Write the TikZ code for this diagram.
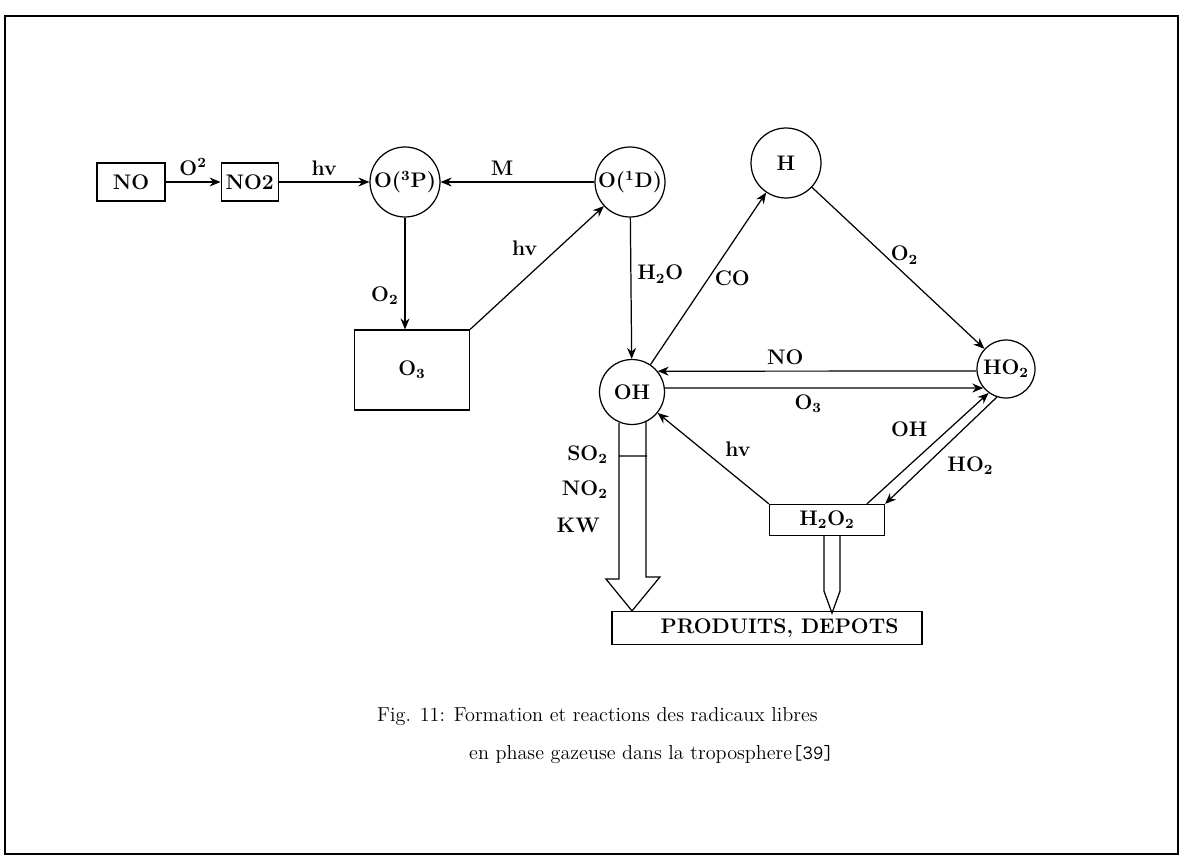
\documentclass[tikz,border=0pt]{standalone}
\usepackage{tikz}
\usetikzlibrary{arrows.meta, positioning}

\begin{document}
\begin{tikzpicture}[
  x=0.02cm, y=-0.02cm,
  font=\fontsize{12}{14}\selectfont\bfseries,
  box/.style={draw, line width=0.7pt, inner sep=0pt},
  rad/.style={draw, circle, line width=0.7pt, minimum size=1.4cm, inner sep=0pt},
  arr/.style={-{Stealth[length=2.2mm, width=1.8mm]}, line width=0.7pt},
  hollow/.style={line width=0.7pt, line join=miter},
  capt/.style={anchor=west, font=\fontsize{11.5}{14}\selectfont}
]
  \useasboundingbox (0,0) rectangle (1193,865);
  \draw[line width=1pt] (5,16) rectangle (1178,854);

  \node[box, minimum width=1.36cm, minimum height=0.76cm] (no) at (131,182) {NO};
  \node[box, minimum width=1.14cm, minimum height=0.76cm, right=1.1cm of no] (no2) {NO2};
  \node[rad] (o3p) at (405,182) {O(\textsuperscript{3}P)};
  \node[rad] (o1d) at (630,182) {O(\textsuperscript{1}D)};
  \node[rad] (h) at (786,163) {H};
  \node[box, minimum width=2.3cm, minimum height=1.6cm] (o3) at (412,370) {O\textsubscript{3}};
  \node[rad, minimum size=1.3cm] (oh) at (632,392) {OH};
  \node[rad, minimum size=1.16cm] (ho2) at (1006,369) {HO\textsubscript{2}};
  \node[box, minimum width=2.3cm, minimum height=0.62cm] (h2o2) at (827,520)
    {H\textsubscript{2}O\textsubscript{2}};
  \node[box, minimum width=6.2cm, minimum height=0.66cm] (prod) at (767,628)
    {\hspace*{0.5cm}PRODUITS, DEPOTS};

  \draw[arr] (no) -- node[above] {O\textsuperscript{2}} (no2);
  \draw[arr] (no2) -- node[above] {hv} (o3p);
  \draw[arr] (o1d) -- node[above, pos=.6] {M} (o3p);
  \draw[arr] (o3p) -- node[left, pos=.7] {O\textsubscript{2}} (o3p |- o3.north);
  \draw[arr] (o3.north east) -- node[above left, pos=.55] {hv} (o1d);
  \draw[arr] (o1d) -- node[right, pos=.4] {H\textsubscript{2}O} (oh);
  \draw[arr] (oh) -- node[right, pos=.5] {CO} (h);
  \draw[arr] (h) -- node[right, pos=.42] {O\textsubscript{2}} (ho2);
  \draw[arr] (ho2.184) -- node[above, pos=.6] {NO} (oh.39);
  \draw[arr] (oh.7) -- node[below, pos=.45] {O\textsubscript{3}} (ho2.220);
  \draw[arr] (h2o2.north west) -- node[above right, pos=.45] {hv} (oh);
  \draw[arr] (h2o2.22) -- node[above left, pos=.55] {OH} (ho2.234);
  \draw[arr] (ho2.252) -- node[below right] {HO\textsubscript{2}} (h2o2.north east);

  \draw[hollow] (oh.south) ++(-13,-2) -- ++(0,156) -- ++(-13,0) -- (prod.north -| oh.south)
    -- ++(28,-34) -- ++(-14,0) -- ++(0,-156)
    (oh.south) ++(-13,31) -- ++(28,0);
  \draw[hollow] (h2o2.south) ++(-3,0) -- ++(0,55) -- ++(8,22) -- ++(8,-22) -- ++(0,-55);

  \node[anchor=east] (so2) at (614,455) {SO\textsubscript{2}};
  \node[anchor=east] (no2l) at (614,490) {NO\textsubscript{2}};
  \node[anchor=east] (kw) at (606,525) {KW};

  \node[capt] (cap1) at (371,717) {Fig. 11: Formation et reactions des radicaux libres};
  \node[capt] (cap2) at (463,755) {en phase gazeuse dans la troposphere{\ttfamily[39]}};
\end{tikzpicture}
\end{document}
